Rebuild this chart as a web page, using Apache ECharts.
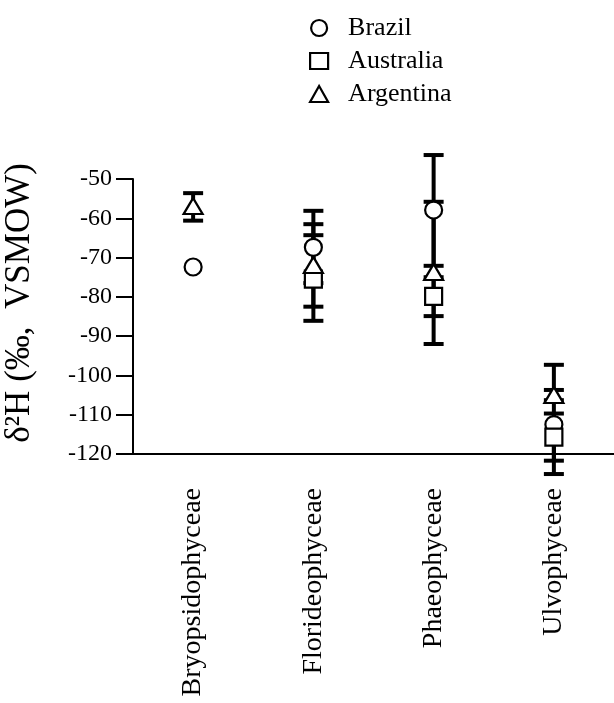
<!DOCTYPE html>
<html>
<head>
<meta charset="utf-8">
<script src="https://cdn.jsdelivr.net/npm/echarts@6/dist/echarts.min.js"></script>
<style>html,body{margin:0;padding:0;background:#fff}#c{width:614px;height:703px}</style>
</head>
<body>
<div id="c"></div>
<script>
var categories = ['Bryopsidophyceae', 'Florideophyceae', 'Phaeophyceae', 'Ulvophyceae'];
var countries = ['Brazil', 'Australia', 'Argentina'];
var yTicks = [-120, -110, -100, -90, -80, -70, -60, -50];

var brazilMean = [-72.4, -67.4, -57.9, -112.5];
var brazilLow  = [null, -76.5, -72.1, -125.1];
var brazilHigh = [null, -58.1, -43.9, -97.3];

var australiaMean = [null, -75.5, -79.9, -115.7];
var australiaLow  = [null, -86.1, -84.9, -121.7];
var australiaHigh = [null, -64.3, -75.0, -109.7];

var argentinaMean = [-56.9, -71.9, -73.7, -105.0];
var argentinaLow  = [-60.6, -82.5, -92.0, -106.3];
var argentinaHigh = [-53.6, -61.5, -55.8, -103.7];

var FONT = "'Liberation Serif', 'Times New Roman', serif";

function pts(mean) {
  var out = [];
  mean.forEach(function (v, i) { if (v !== null) out.push([i, v]); });
  return out;
}
function errs(low, high) {
  var out = [];
  low.forEach(function (v, i) { if (v !== null && high[i] !== null) out.push([i, v, high[i]]); });
  return out;
}
function renderErr(params, api) {
  var x = api.value(0);
  var lo = api.coord([x, api.value(1)]);
  var hi = api.coord([x, api.value(2)]);
  var hw = 10;
  var st = { stroke: '#000', lineWidth: 4 };
  var cs = { stroke: '#000', lineWidth: 4 };
  return {
    type: 'group',
    children: [
      { type: 'line', shape: { x1: lo[0], y1: lo[1], x2: hi[0], y2: hi[1] }, style: st },
      { type: 'line', shape: { x1: lo[0] - hw, y1: lo[1], x2: lo[0] + hw, y2: lo[1] }, style: cs },
      { type: 'line', shape: { x1: hi[0] - hw, y1: hi[1], x2: hi[0] + hw, y2: hi[1] }, style: cs }
    ]
  };
}
function errSeries(low, high) {
  return { type: 'custom', z: 1, clip: false, silent: true, renderItem: renderErr,
    data: errs(low, high), encode: { x: 0, y: [1, 2] } };
}
var mk = { color: '#fff', borderColor: '#000', borderWidth: 2.2, opacity: 1 };

var chart = echarts.init(document.getElementById('c'), null, { renderer: 'canvas' });
chart.setOption({
  animation: false,
  backgroundColor: '#fff',
  grid: { left: 133, right: 0, top: 179, bottom: 249, containLabel: false },
  legend: {
    orient: 'vertical', left: 304, top: 10,
    itemWidth: 18, itemHeight: 16, itemGap: 7,
    data: countries,
    itemStyle: { color: '#fff', borderColor: '#000', borderWidth: 2.2, opacity: 1 },
    textStyle: { fontFamily: FONT, fontSize: 26, color: '#000', padding: [0, 0, 0, 15] }
  },
  graphic: [{
    type: 'text', x: 20, y: 303, rotation: Math.PI / 2,
    style: { text: 'δ²H (‰,  VSMOW)', font: '35px ' + FONT, fill: '#000', align: 'center', verticalAlign: 'middle' }
  }],
  xAxis: {
    type: 'category', data: categories, boundaryGap: true,
    axisLine: { lineStyle: { color: '#000', width: 2 } },
    axisTick: { show: false },
    axisLabel: { rotate: 90, margin: 34, fontFamily: FONT, fontSize: 28, color: '#000', interval: 0 }
  },
  yAxis: {
    type: 'value', min: -120, max: -50, interval: 10,
    axisLine: { show: true, lineStyle: { color: '#000', width: 2 } },
    axisTick: { show: true, length: 17, lineStyle: { color: '#000', width: 2 } },
    splitLine: { show: false },
    axisLabel: { margin: 21, fontFamily: FONT, fontSize: 24, color: '#000',
      customValues: yTicks }
  },
  series: [
    errSeries(brazilLow, brazilHigh),
    errSeries(australiaLow, australiaHigh),
    errSeries(argentinaLow, argentinaHigh),
    { name: 'Brazil', type: 'scatter', z: 3, symbol: 'circle', symbolSize: 17, itemStyle: mk, data: pts(brazilMean) },
    { name: 'Australia', type: 'scatter', z: 4, symbol: 'rect', symbolSize: 17, itemStyle: mk, data: pts(australiaMean) },
    { name: 'Argentina', type: 'scatter', z: 5, symbol: 'triangle', symbolSize: [19, 16], itemStyle: mk, data: pts(argentinaMean) }
  ]
});
</script>
</body>
</html>
